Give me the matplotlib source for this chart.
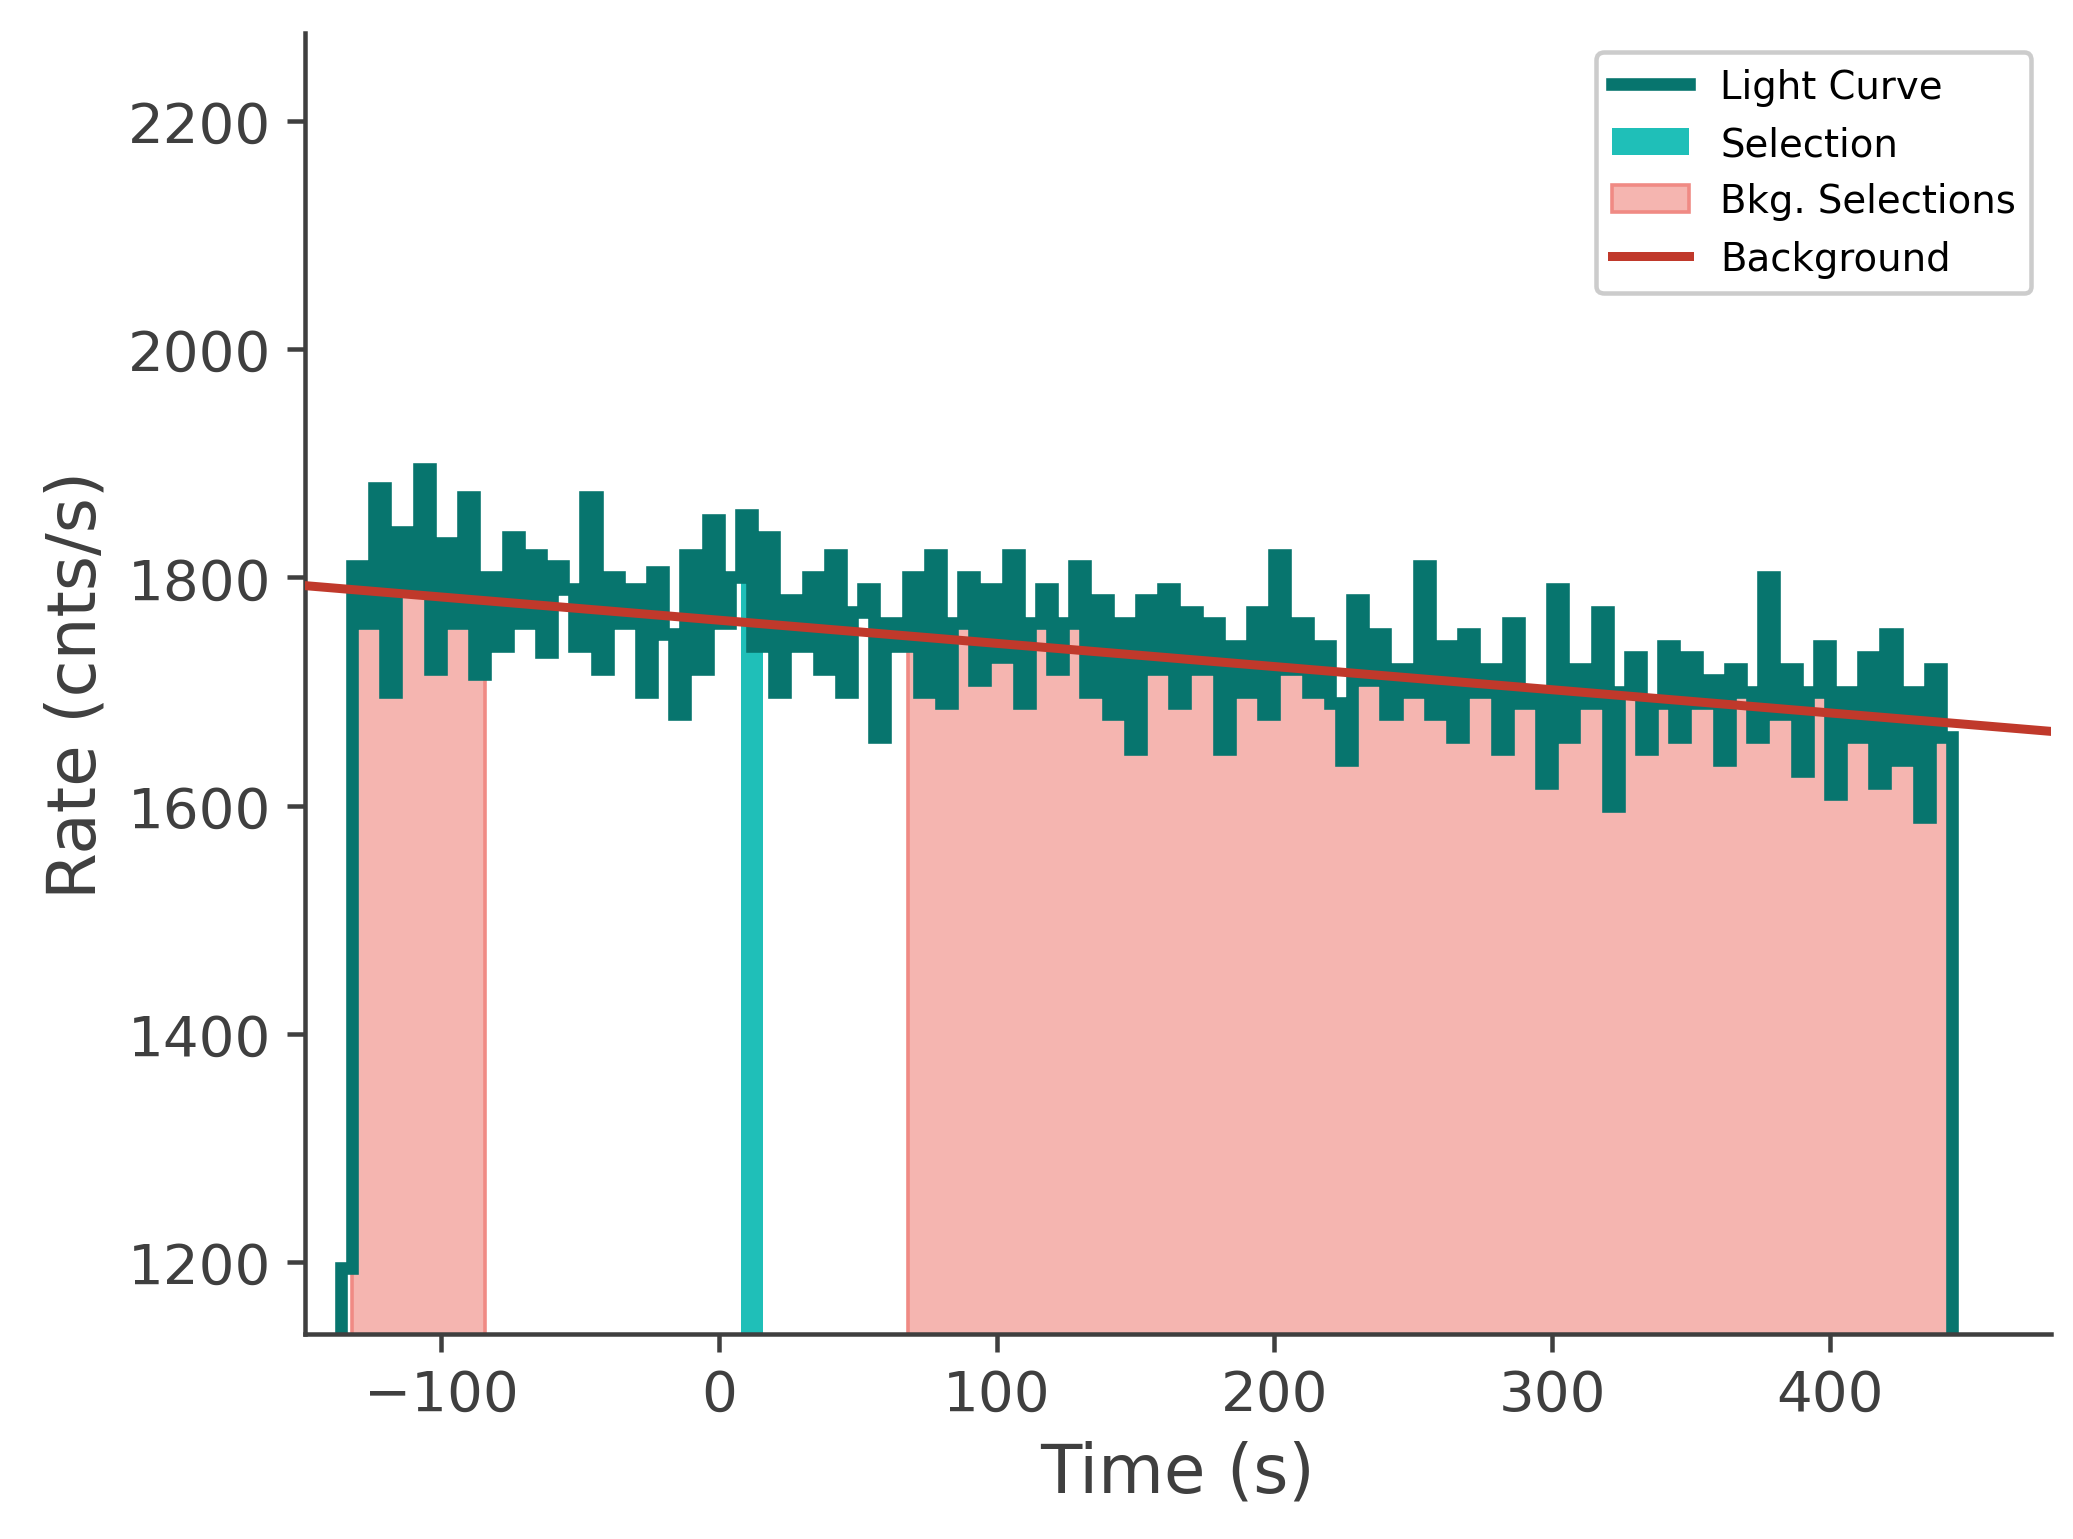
import numpy as np
import matplotlib
matplotlib.use("Agg")
import matplotlib.pyplot as plt

# light curve, 4 s bins starting at t = -136 s
t_start = -136.0
bin_width = 4.0
rates = [
    1195, 1810, 1760, 1878, 1700, 1840, 1790, 1895, 1720, 1830,
    1760, 1870, 1715, 1800, 1740, 1835, 1760, 1820, 1735, 1810,
    1790, 1740, 1870, 1720, 1800, 1760, 1790, 1700, 1805, 1750,
    1680, 1820, 1720, 1850, 1760, 1800, 1855, 1740, 1835, 1700,
    1780, 1740, 1800, 1720, 1820, 1700, 1770, 1790, 1660, 1760,
    1740, 1800, 1700, 1820, 1690, 1760, 1800, 1710, 1790, 1730,
    1820, 1690, 1760, 1790, 1720, 1760, 1810, 1700, 1780, 1680,
    1760, 1650, 1780, 1720, 1790, 1690, 1770, 1720, 1760, 1650,
    1740, 1700, 1770, 1680, 1820, 1720, 1760, 1700, 1740, 1690,
    1640, 1780, 1710, 1750, 1680, 1720, 1700, 1810, 1680, 1740,
    1660, 1750, 1700, 1720, 1650, 1760, 1690, 1700, 1620, 1790,
    1660, 1720, 1690, 1770, 1600, 1700, 1730, 1650, 1690, 1740,
    1660, 1730, 1690, 1710, 1640, 1720, 1700, 1660, 1800, 1680,
    1720, 1630, 1700, 1740, 1610, 1700, 1660, 1730, 1620, 1750,
    1640, 1700, 1590, 1720, 1660,
]
src_sel = (8, 16)
bkg_sels = [(-132, -84), (68, 444)]
bkg_line_x = [-150, 480]
bkg_line_y = [1793, 1665]

rates = np.array(rates, dtype=float)
edges = t_start + bin_width * np.arange(len(rates) + 1)
ylo, yhi = 1137, 2277

fig = plt.figure(figsize=(6.4, 4.753), dpi=324)
ax = fig.add_axes([0.147, 0.133, 0.842, 0.845])

xs = edges
ys = np.append(rates, rates[-1])
for i, (a, b) in enumerate(bkg_sels):
    ax.fill_between(xs, ylo - 200, ys, where=(xs >= a) & (xs <= b), step="post",
                    color="#f5b5b0", edgecolor="#f08a84", lw=0.8,
                    label="Bkg. Selections" if i == 0 else None, zorder=1)
ax.fill_between(xs, ylo - 200, ys, where=(xs >= src_sel[0]) & (xs <= src_sel[1]),
                step="post", color="#1fbfb8", lw=0, label="Selection", zorder=1)
ax.stairs(rates, edges, baseline=ylo - 200, color="#07756e", lw=2.8,
          label="Light Curve", zorder=2)
ax.plot(bkg_line_x, bkg_line_y, color="#c0392b", lw=2.0, label="Background", zorder=3)

ax.set_xlim(-149, 479.5)
ax.set_ylim(ylo, yhi)
ax.set_xticks([-100, 0, 100, 200, 300, 400])
ax.set_yticks([1200, 1400, 1600, 1800, 2000, 2200])
for s in ("top", "right"):
    ax.spines[s].set_visible(False)
for s in ("left", "bottom"):
    ax.spines[s].set_color("#3f3f3f")
    ax.spines[s].set_linewidth(1.0)
ax.tick_params(colors="#3f3f3f", labelsize=12.5, width=1.0, length=4)
ax.set_xlabel("Time (s)", fontsize=15, color="#3f3f3f")
ax.set_ylabel("Rate (cnts/s)", fontsize=15, color="#3f3f3f")

h, l = ax.get_legend_handles_labels()
order = [l.index(n) for n in ("Light Curve", "Selection", "Bkg. Selections", "Background")]
ax.legend([h[i] for i in order], [l[i] for i in order], loc="upper right",
          fontsize=8.6, framealpha=1, edgecolor="#cccccc")

fig.savefig("out.png", dpi=324)
